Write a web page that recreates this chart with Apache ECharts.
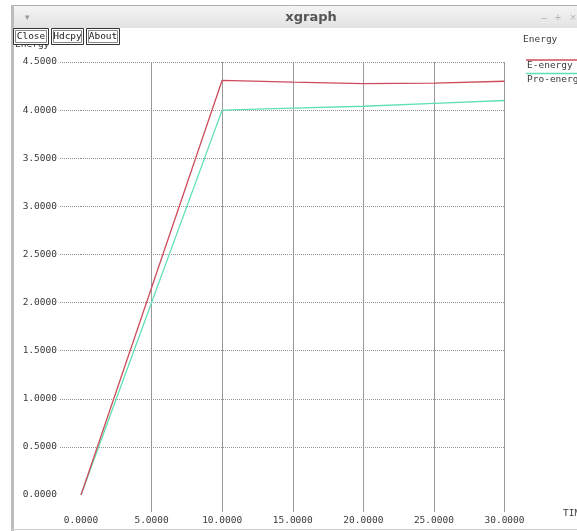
<!DOCTYPE html>
<html>
<head>
<meta charset="utf-8">
<script src="https://cdn.jsdelivr.net/npm/echarts@6/dist/echarts.min.js"></script>
<style>
  html, body { margin: 0; padding: 0; background: #fff; }
  #chart { width: 577px; height: 531px; }
</style>
</head>
<body>
<div id="chart"></div>
<script>
// Energy over time, two traces
const times = [0, 10, 15, 20, 25, 30];
const eEnergy = [0, 4.31, 4.29, 4.275, 4.28, 4.30];
const proEnergy = [0, 4.00, 4.02, 4.04, 4.07, 4.10];
const seriesNames = ['E-energy', 'Pro-energy'];
const seriesColors = ['#cd4c5c', '#5fe0b4'];
const xTickValues = [5, 10, 15, 20, 25, 30];
const yTickValues = [0.5, 1, 1.5, 2, 2.5, 3, 3.5, 4, 4.5];

const mono = 'DejaVu Sans Mono';
const chart = echarts.init(document.getElementById('chart'), null, { renderer: 'canvas' });

const gridLineV = { color: '#999999', width: 1, type: 'solid' };
const gridLineH = { color: '#959595', width: 1, type: [1, 1] };

const option = {
  animation: false,
  backgroundColor: '#ffffff',
  grid: { left: 81, right: 72.5, top: 62, bottom: 36, containLabel: false },
  xAxis: [
    {
      type: 'value', min: 0, max: 30, interval: 5, position: 'bottom',
      axisLine: { show: false },
      axisTick: { show: true, inside: false, length: 17, customValues: xTickValues, lineStyle: gridLineV },
      axisLabel: { margin: 21, fontFamily: mono, fontSize: 9.5, color: '#3a3a3a',
        formatter: v => v.toFixed(4) },
      splitLine: { show: true, lineStyle: gridLineV }
    },
    {
      type: 'value', min: 0, max: 30, interval: 5, position: 'top',
      axisLine: { show: false },
      axisTick: { show: true, inside: false, length: 3, customValues: xTickValues, lineStyle: gridLineV },
      axisLabel: { show: false },
      splitLine: { show: false }
    }
  ],
  yAxis: [
    {
      type: 'value', min: 0, max: 4.5, interval: 0.5, position: 'left',
      axisLine: { show: false },
      axisTick: { show: true, inside: false, length: 21, customValues: yTickValues, lineStyle: gridLineH },
      axisLabel: { margin: 24, fontFamily: mono, fontSize: 9.5, color: '#3a3a3a',
        formatter: v => v.toFixed(4) },
      splitLine: { show: true, lineStyle: gridLineH }
    },
    {
      type: 'value', min: 0, max: 4.5, interval: 0.5, position: 'right',
      axisLine: { show: false },
      axisTick: { show: true, inside: false, length: 22.5, customValues: yTickValues, lineStyle: gridLineH },
      axisLabel: { show: false },
      splitLine: { show: false }
    }
  ],
  series: [
    {
      name: seriesNames[1], type: 'line', showSymbol: false, symbol: 'none',
      data: times.map((t, i) => [t, proEnergy[i]]),
      lineStyle: { color: seriesColors[1], width: 1.3 }, z: 3
    },
    {
      name: seriesNames[0], type: 'line', showSymbol: false, symbol: 'none',
      data: times.map((t, i) => [t, eEnergy[i]]),
      lineStyle: { color: seriesColors[0], width: 1.3 }, z: 4
    }
  ],
  graphic: [
    // window frame
    { type: 'rect', z: 50, shape: { x: 12, y: 6, width: 565, height: 22 },
      style: { fill: new echarts.graphic.LinearGradient(0, 0, 0, 1, [
        { offset: 0, color: '#f4f4f4' }, { offset: 1, color: '#e2e2e2' }]) } },
    { type: 'line', z: 51, shape: { x1: 12, y1: 5.5, x2: 577, y2: 5.5 }, style: { stroke: '#b0b0b0', lineWidth: 1 } },
    { type: 'rect', z: 51, shape: { x: 11, y: 5, width: 3, height: 526 }, style: { fill: '#bdbdbd' } },
    { type: 'line', z: 51, shape: { x1: 12, y1: 529.5, x2: 577, y2: 529.5 }, style: { stroke: '#cfcfcf', lineWidth: 1 } },
    { type: 'text', z: 52, style: { x: 27, y: 18, text: '\u25BE', fontSize: 9, fill: '#9a9a9a', align: 'center', verticalAlign: 'middle' } },
    { type: 'text', z: 52, style: { x: 311, y: 18, text: 'xgraph', fontFamily: 'DejaVu Sans', fontWeight: 'bold', fontSize: 13, fill: '#555', align: 'center', verticalAlign: 'middle' } },
    { type: 'text', z: 52, style: { x: 544, y: 18, text: '\u2013', fontSize: 11, fill: '#b5b5b5', align: 'center', verticalAlign: 'middle' } },
    { type: 'text', z: 52, style: { x: 558, y: 18, text: '+', fontSize: 11, fill: '#b5b5b5', align: 'center', verticalAlign: 'middle' } },
    { type: 'text', z: 52, style: { x: 573, y: 18, text: '\u00D7', fontSize: 11, fill: '#b5b5b5', align: 'center', verticalAlign: 'middle' } },

    // axis titles
    { type: 'text', z: 40, style: { x: 15, y: 45, text: 'Energy', fontFamily: mono, fontSize: 9.5, fill: '#3a3a3a', verticalAlign: 'middle' } },
    { type: 'text', z: 40, style: { x: 523, y: 40, text: 'Energy', fontFamily: mono, fontSize: 9.5, fill: '#3a3a3a', verticalAlign: 'middle' } },
    { type: 'text', z: 40, style: { x: 563, y: 514, text: 'TIME', fontFamily: mono, fontSize: 9.5, fill: '#3a3a3a', verticalAlign: 'middle' } },

    // buttons
    { type: 'rect', z: 60, shape: { x: 13.5, y: 28.5, width: 35, height: 16 }, style: { fill: '#fff', stroke: '#333', lineWidth: 1 } },
    { type: 'rect', z: 60, shape: { x: 15.5, y: 30.5, width: 31, height: 12 }, style: { fill: 'none', stroke: '#888', lineWidth: 1 } },
    { type: 'text', z: 61, style: { x: 31, y: 36.5, text: 'Close', fontFamily: mono, fontSize: 9.5, fill: '#222', align: 'center', verticalAlign: 'middle' } },
    { type: 'rect', z: 60, shape: { x: 51.5, y: 28.5, width: 32, height: 16 }, style: { fill: '#fff', stroke: '#333', lineWidth: 1 } },
    { type: 'rect', z: 60, shape: { x: 53.5, y: 30.5, width: 28, height: 12 }, style: { fill: 'none', stroke: '#888', lineWidth: 1 } },
    { type: 'text', z: 61, style: { x: 67.5, y: 36.5, text: 'Hdcpy', fontFamily: mono, fontSize: 9.5, fill: '#222', align: 'center', verticalAlign: 'middle' } },
    { type: 'rect', z: 60, shape: { x: 86.5, y: 28.5, width: 33, height: 16 }, style: { fill: '#fff', stroke: '#333', lineWidth: 1 } },
    { type: 'rect', z: 60, shape: { x: 88.5, y: 30.5, width: 29, height: 12 }, style: { fill: 'none', stroke: '#888', lineWidth: 1 } },
    { type: 'text', z: 61, style: { x: 103, y: 36.5, text: 'About', fontFamily: mono, fontSize: 9.5, fill: '#222', align: 'center', verticalAlign: 'middle' } },

    // legend
    { type: 'line', z: 40, shape: { x1: 526, y1: 60, x2: 577, y2: 60 }, style: { stroke: seriesColors[0], lineWidth: 1.3 } },
    { type: 'text', z: 40, style: { x: 527, y: 65.5, text: seriesNames[0], fontFamily: mono, fontSize: 9.5, fill: '#3a3a3a', verticalAlign: 'middle' } },
    { type: 'line', z: 40, shape: { x1: 526, y1: 73.5, x2: 577, y2: 73.5 }, style: { stroke: seriesColors[1], lineWidth: 1.3 } },
    { type: 'text', z: 40, style: { x: 527, y: 80, text: seriesNames[1], fontFamily: mono, fontSize: 9.5, fill: '#3a3a3a', verticalAlign: 'middle' } }
  ]
};

chart.setOption(option);
</script>
</body>
</html>
